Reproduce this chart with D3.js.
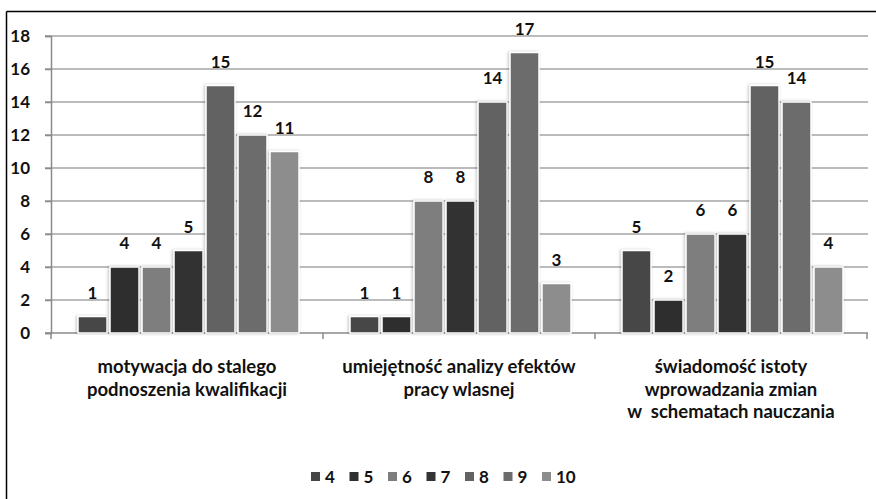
<!DOCTYPE html>
<html>
<head>
<meta charset="utf-8">
<script src="https://cdn.jsdelivr.net/npm/d3@7"></script>
<style>
  html, body { margin: 0; padding: 0; background: #fff; }
  svg { display: block; font-family: Lato, "Open Sans", sans-serif; }
</style>
</head>
<body>
<svg id="chart" width="876" height="499"></svg>
<script>
// Survey groups (x-axis categories), each label split into its lines
const categories = [
  ["motywacja do stalego", "podnoszenia kwalifikacji"],
  ["umiejętność analizy efektów", "pracy wlasnej"],
  ["świadomość istoty", "wprowadzania zmian", "w  schematach nauczania"]
];
// Rating series shown in the legend
const seriesNames = ["4", "5", "6", "7", "8", "9", "10"];
// Counts per series, one value for each category
const series4  = [1, 1, 5];
const series5  = [4, 1, 2];
const series6  = [4, 8, 6];
const series7  = [5, 8, 6];
const series8  = [15, 14, 15];
const series9  = [12, 17, 14];
const series10 = [11, 3, 4];
const seriesValues = [series4, series5, series6, series7, series8, series9, series10];
const yTicks = [0, 2, 4, 6, 8, 10, 12, 14, 16, 18];
const seriesColors = ["#464646", "#2f2f2f", "#7e7e7e", "#333333", "#626262", "#6c6c6c", "#8d8d8d"];

const svg = d3.select("#chart");

// outer frame (top and left edges)
svg.append("line").attr("x1", 6.5).attr("x2", 876).attr("y1", 11.5).attr("y2", 11.5)
  .attr("stroke", "#000").attr("stroke-width", 1.5);
svg.append("line").attr("x1", 6.5).attr("x2", 6.5).attr("y1", 11.5).attr("y2", 499)
  .attr("stroke", "#000").attr("stroke-width", 1.5);

const plot = { left: 51, right: 867, top: 36, bottom: 333 };

const y = d3.scaleLinear().domain([0, 18]).range([plot.bottom, plot.top]);
const x0 = d3.scaleBand().domain(d3.range(categories.length)).range([plot.left, plot.right]);
const x1 = d3.scaleBand().domain(seriesNames).range([26, 26 + 224]);

// gridlines
svg.append("g").selectAll("line").data(yTicks.filter(t => t > 0)).join("line")
  .attr("x1", plot.left - 6).attr("x2", plot.right + 1)
  .attr("y1", d => y(d)).attr("y2", d => y(d))
  .attr("stroke", "#a4a4a4").attr("stroke-width", 1.5);

// y axis
const yAxis = svg.append("g").attr("transform", `translate(${plot.left},0)`)
  .call(d3.axisLeft(y).tickValues(yTicks).tickSize(6).tickPadding(14));
yAxis.select(".domain").attr("stroke", "#8a8a8a").attr("stroke-width", 1.5);
yAxis.selectAll(".tick line").attr("stroke", "#8a8a8a").attr("stroke-width", 1.5);
yAxis.selectAll(".tick text").attr("fill", "#111").attr("font-size", 17)
  .attr("font-family", "Lato, sans-serif").attr("font-weight", 700).attr("text-anchor", "end")
  .attr("x", -21);

// x axis with boundary ticks
const xg = svg.append("g");
xg.append("line").attr("x1", plot.left - 6).attr("x2", plot.right + 1)
  .attr("y1", plot.bottom).attr("y2", plot.bottom)
  .attr("stroke", "#8a8a8a").attr("stroke-width", 1.5);
xg.selectAll("line.tk").data(d3.range(categories.length + 1)).join("line").attr("class", "tk")
  .attr("x1", d => plot.left + d * x0.bandwidth()).attr("x2", d => plot.left + d * x0.bandwidth())
  .attr("y1", plot.bottom).attr("y2", plot.bottom + 6)
  .attr("stroke", "#8a8a8a").attr("stroke-width", 1.5);

// bars with a soft edge shadow
const defs = svg.append("defs");
const f = defs.append("filter").attr("id", "glow").attr("x", "-20%").attr("y", "-10%")
  .attr("width", "140%").attr("height", "120%");
f.append("feDropShadow").attr("dx", -1).attr("dy", 0).attr("stdDeviation", 1.5)
  .attr("flood-color", "#000").attr("flood-opacity", 0.25);

const groups = svg.append("g").selectAll("g").data(categories.map((c, i) => i)).join("g")
  .attr("transform", i => `translate(${x0(i)},0)`);

groups.selectAll("rect")
  .data(i => seriesNames.map((s, k) => ({ s, k, v: seriesValues[k][i] })))
  .join("rect")
  .attr("x", d => x1(d.s) + 1)
  .attr("width", x1.bandwidth() - 3)
  .attr("y", d => y(d.v))
  .attr("height", d => y(0) - y(d.v))
  .attr("fill", d => seriesColors[d.k])
  .attr("stroke", "#fff").attr("stroke-width", 1.5)
  .attr("filter", "url(#glow)");

groups.selectAll("text.val")
  .data(i => seriesNames.map((s, k) => ({ s, k, v: seriesValues[k][i] })))
  .join("text").attr("class", "val")
  .attr("x", d => x1(d.s) + x1.bandwidth() / 2 - 0.5)
  .attr("y", d => y(d.v) - 18)
  .attr("text-anchor", "middle")
  .attr("font-size", 17).attr("font-weight", 700).attr("fill", "#111")
  .text(d => d.v);

// category labels
const catText = svg.append("g").selectAll("text").data(categories).join("text")
  .attr("x", (d, i) => x0(i) + x0.bandwidth() / 2)
  .attr("y", 373)
  .attr("text-anchor", "middle")
  .attr("font-size", 18.5).attr("font-weight", 700).attr("fill", "#111");
catText.selectAll("tspan").data(d => d).join("tspan")
  .attr("x", function () { return this.parentNode.getAttribute("x"); })
  .attr("dy", (d, j) => j === 0 ? 0 : 22.5)
  .attr("xml:space", "preserve")
  .style("white-space", "pre")
  .text(d => d);

// legend
const legend = svg.append("g").attr("transform", "translate(311,477)");
const item = legend.selectAll("g").data(seriesNames).join("g")
  .attr("transform", (d, i) => `translate(${i * 38.5},0)`);
item.append("rect").attr("x", 0).attr("y", -5).attr("width", 9).attr("height", 9)
  .attr("fill", (d, i) => seriesColors[i]);
item.append("text").attr("x", 14).attr("y", 6).attr("font-size", 17).attr("font-weight", 700)
  .attr("fill", "#111").text(d => d);
</script>
</body>
</html>
